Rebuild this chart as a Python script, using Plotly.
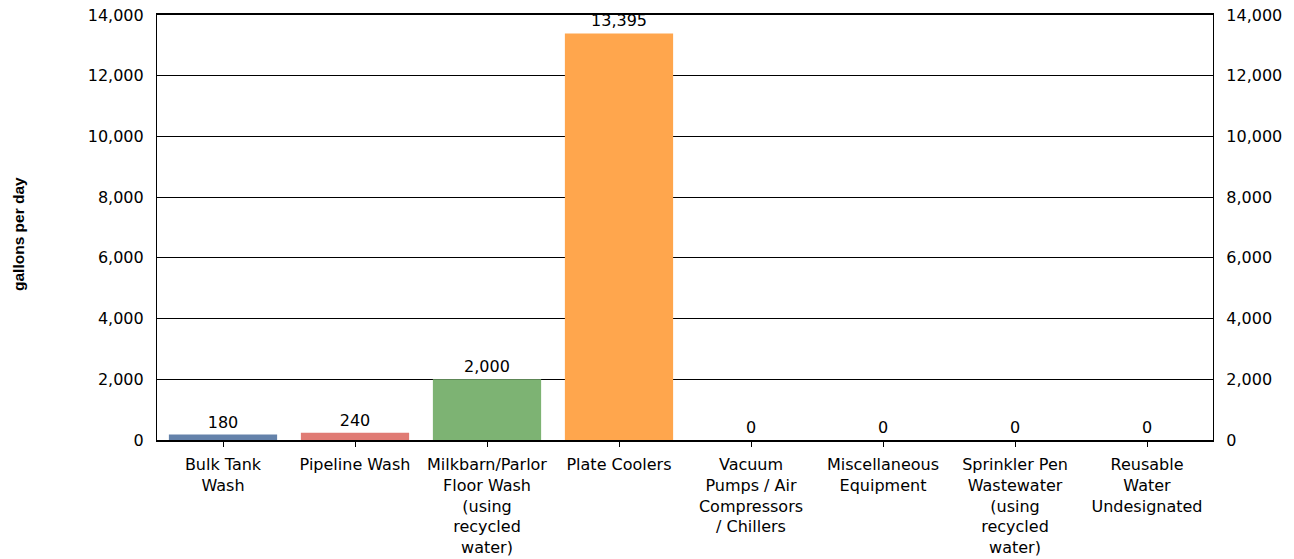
import plotly.graph_objects as go

categories = [
    "Bulk Tank<br>Wash",
    "Pipeline Wash",
    "Milkbarn/Parlor<br>Floor Wash<br>(using<br>recycled<br>water)",
    "Plate Coolers",
    "Vacuum<br>Pumps / Air<br>Compressors<br>/ Chillers",
    "Miscellaneous<br>Equipment",
    "Sprinkler Pen<br>Wastewater<br>(using<br>recycled<br>water)",
    "Reusable<br>Water<br>Undesignated",
]
values = [180, 240, 2000, 13395, 0, 0, 0, 0]
colors = ["#6482AA", "#E07B74", "#7DB373", "#FFA64D", "#4F81BD", "#4F81BD", "#4F81BD", "#4F81BD"]
y_ticks = [0, 2000, 4000, 6000, 8000, 10000, 12000, 14000]

FONT = "DejaVu Sans, Liberation Sans, sans-serif"
FS = 16

fig = go.Figure()
fig.add_trace(go.Bar(
    x=categories, y=values, marker=dict(color=colors, line=dict(width=0)),
    width=0.82, text=[f"{v:,}" for v in values], textposition="outside",
    textfont=dict(family=FONT, size=FS, color="black"), cliponaxis=False,
    showlegend=False, hoverinfo="x+y",
))
fig.add_trace(go.Scatter(x=categories, y=values, yaxis="y2", mode="none",
                         showlegend=False, hoverinfo="skip"))

axis_common = dict(
    range=[0, 14001], tickvals=y_ticks, ticktext=[f"{v:,}" for v in y_ticks],
    showline=True, linecolor="black", linewidth=1.2, ticks="",
    tickfont=dict(family=FONT, size=FS, color="black"), automargin=False,
    ticklabeloverflow="allow",
)
# page body has an 8px margin; plot area target: x 157..1213, y 15..440 in the window
W, H = 1286, 551
L, T = 157 - 8, 15 - 8
R = (8 + W) - 1213
B = (8 + H) - 440
pw = W - L - R
ph = H - T - B
fig.update_layout(
    width=W, height=H,
    margin=dict(l=L, r=R, t=T, b=B, autoexpand=False),
    paper_bgcolor="white", plot_bgcolor="white",
    font=dict(family=FONT, size=FS, color="black"),
    xaxis=dict(showline=True, linecolor="black", linewidth=1.5, mirror=True,
               ticks="outside", ticklen=5, tickcolor="black", tickwidth=1,
               tickfont=dict(family=FONT, size=FS, color="black"),
               ticklabelstandoff=4, ticklabeloverflow="allow",
               showgrid=False, automargin=False),
    yaxis=dict(**axis_common, showgrid=True, gridcolor="black", gridwidth=1,
               zeroline=False, side="left", ticklabelstandoff=9),
    yaxis2=dict(**axis_common, overlaying="y", side="right", showgrid=False,
                zeroline=False, ticklabelstandoff=9),
    annotations=[dict(text="<b>gallons per day</b>",
                      x=(18 - 157) / pw, y=(440 - 234) / ph,
                      xref="paper", yref="paper", xanchor="center", yanchor="middle",
                      showarrow=False, textangle=-90,
                      font=dict(family="Liberation Sans, Arial, sans-serif", size=15.5, color="black"))],
)

fig.write_html("out.html")
